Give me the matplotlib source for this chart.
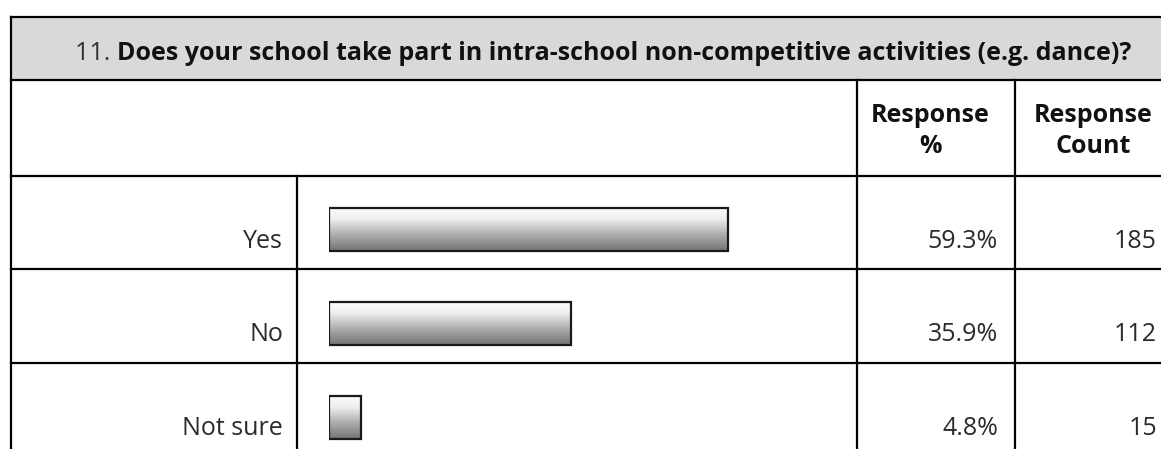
import numpy as np
import matplotlib.pyplot as plt
from matplotlib.colors import LinearSegmentedColormap

plt.rcParams['font.family'] = ['Open Sans', 'DejaVu Sans']

question_no = '11.'
question = 'Does your school take part in intra-school non-competitive activities (e.g. dance)?'
answers = ['Yes', 'No', 'Not sure']
percents = [59.3, 35.9, 4.8]
counts = [185, 112, 15]
col_heads = ['Response\n%', 'Response\nCount']

W, H = 1161, 449
fig = plt.figure(figsize=(W / 100, H / 100), dpi=100)

# full-figure axes in pixel units for the table frame
tab = fig.add_axes([0, 0, 1, 1])
tab.set_xlim(0, W)
tab.set_ylim(H, 0)
tab.axis('off')

lw = 1.6
txt = '#2b2b2b'
fs = 18

# header band
tab.fill_between([11, W], 17, 80, color='#d9d9d9', lw=0)
tab.plot([11, W], [17, 17], color='black', lw=lw)
tab.plot([11, 11], [17, H], color='black', lw=lw)
tab.plot([11, W], [80, 80], color='black', lw=lw)
tab.plot([11, W], [175.5, 175.5], color='black', lw=lw)
for x in [857, 1015]:
    tab.plot([x, x], [80, H], color='black', lw=lw)

row_h = 93.8
row_top = 175.5
for i in range(1, len(answers)):
    y = row_top + row_h * i
    tab.plot([11, W], [y, y], color='black', lw=lw)
tab.plot([297, 297], [175.5, H], color='black', lw=lw)

# title
t = tab.text(75, 60, question_no + ' ', fontsize=fs, color='#333333', va='baseline')
tab.annotate(question, xy=(1, 0), xycoords=t, fontsize=fs, fontweight='bold',
             color='#111111', va='bottom', ha='left')

# column headers
tab.text(930, 153, col_heads[0], fontsize=fs, fontweight='bold', color='#111111',
         ha='center', va='baseline', linespacing=1.3)
tab.text(1093, 153, col_heads[1], fontsize=fs, fontweight='bold', color='#111111',
         ha='center', va='baseline', linespacing=1.3)

for i, (a, p, c) in enumerate(zip(answers, percents, counts)):
    yb = row_top + row_h * i + 72
    tab.text(283, yb, a, fontsize=fs, color=txt, ha='right', va='baseline')
    tab.text(998, yb, f'{p}%', fontsize=fs, color=txt, ha='right', va='baseline')
    tab.text(1157, yb, str(c), fontsize=fs, color=txt, ha='right', va='baseline')

# bar axes
x0, x1 = 329, 857
px_per = 399 / percents[0]
top_px, bot_px = 175.5, H
c0, step = 229.5, 94.0
bar = fig.add_axes([x0 / W, 0, (x1 - x0) / W, (bot_px - top_px) / H])
bar.axis('off')

cmap = LinearSegmentedColormap.from_list(
    'grad', [(0, '#fafbfb'), (0.25, '#eef0f0'), (0.6, '#b0b0b0'), (1, '#737373')])
grad = np.linspace(0, 1, 256).reshape(-1, 1)
ypos = np.arange(len(answers))
bh = 0.455
bars = bar.barh(ypos, percents, height=bh, left=0, facecolor='none',
                edgecolor='#1a1a1a', linewidth=1.6, zorder=3)
for rect, y, p in zip(bars, ypos, percents):
    im = bar.imshow(grad, cmap=cmap, aspect='auto', zorder=2,
                    extent=[0, p, y + bh / 2, y - bh / 2], origin='upper')
    im.set_clip_path(rect)
bar.set_xlim(0, (x1 - x0) / px_per)
bar.set_ylim((bot_px - c0) / step, (top_px - c0) / step)

fig.savefig('out.png', dpi=100)
